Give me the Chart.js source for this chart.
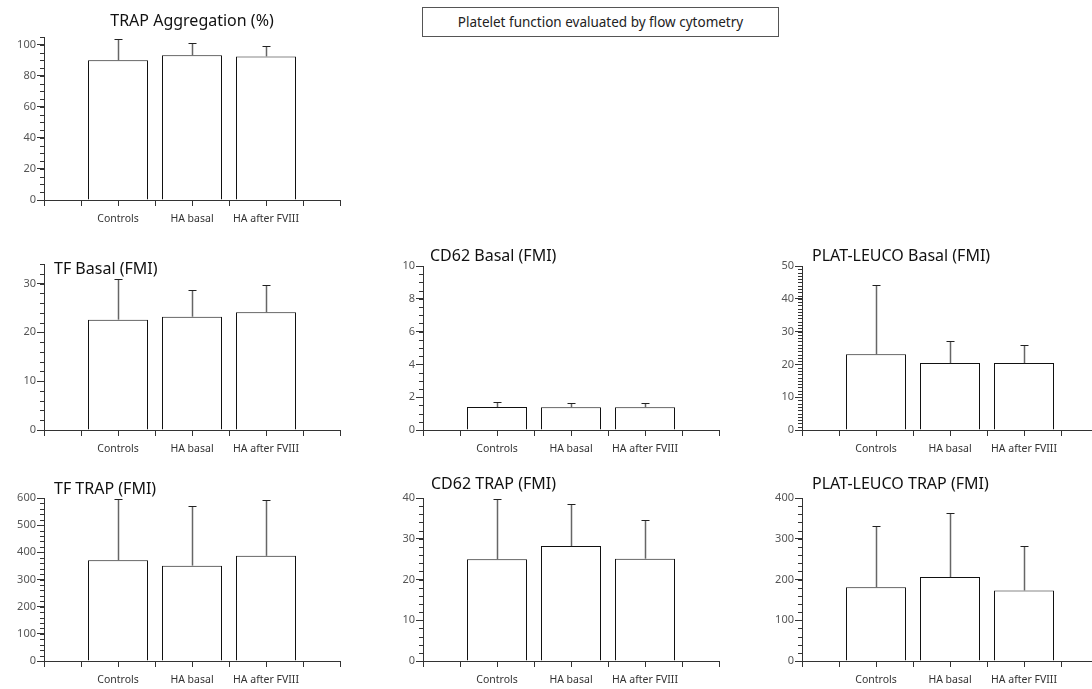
<!DOCTYPE html>
<html>
<head>
<meta charset="utf-8">
<script src="https://cdn.jsdelivr.net/npm/chart.js@4.4.0/dist/chart.umd.min.js"></script>
<style>
  body { margin: 0; background: #fff; width: 1092px; height: 689px; overflow: hidden; position: relative; font-family: "Noto Sans", sans-serif; }
  canvas { position: absolute; }
  .ttl { position: absolute; font-size: 16px; line-height: 20px; color: #111; white-space: nowrap; z-index: 2; }
  .note { position: absolute; left: 422px; top: 7px; width: 355px; height: 28px; border: 1px solid #555; font-size: 13.5px; line-height: 28px; text-align: center; color: #222; }
</style>
</head>
<body>
<div class="note">Platelet function evaluated by flow cytometry</div>
<div id="wrap"></div>
<script>
// groups
var categories = ['Controls', 'HA basal', 'HA after FVIII'];

// mean and SD per panel
var trapAggMean = [90, 93.2, 92.5];
var trapAggSd = [13.6, 7.8, 6.9];
var tfBasalMean = [22.6, 23.2, 24.1];
var tfBasalSd = [8.4, 5.5, 5.6];
var cd62BasalMean = [1.4, 1.38, 1.38];
var cd62BasalSd = [0.3, 0.25, 0.25];
var plBasalMean = [23.1, 20.4, 20.4];
var plBasalSd = [21.0, 6.7, 5.4];
var tfTrapMean = [371, 351, 387];
var tfTrapSd = [225, 218, 204];
var cd62TrapMean = [25.0, 28.2, 25.1];
var cd62TrapSd = [14.7, 10.4, 9.4];
var plTrapMean = [181, 206, 173];
var plTrapSd = [151, 158, 110];

// y axis: max, labelled step, minor step
var yMax = [105, 34, 10, 50, 600, 40, 400];
var yMajor = [20, 10, 2, 10, 100, 10, 100];
var yMinor = [5, 2, 0.5, 1, 20, 2, 20];

Chart.defaults.font.family = 'Noto Sans';

var panels = [
  { title: 'TRAP Aggregation (%)', mean: trapAggMean, sd: trapAggSd, left: 0, top: 29, h: 201, tx: 44, ty: 10, center: true },
  { title: 'TF Basal (FMI)', mean: tfBasalMean, sd: tfBasalSd, left: 0, top: 256, h: 204, tx: 54, ty: 258 },
  { title: 'CD62 Basal (FMI)', mean: cd62BasalMean, sd: cd62BasalSd, left: 379, top: 258, h: 202, tx: 430, ty: 245 },
  { title: 'PLAT-LEUCO Basal (FMI)', mean: plBasalMean, sd: plBasalSd, left: 758, top: 258, h: 202, tx: 812, ty: 245 },
  { title: 'TF TRAP (FMI)', mean: tfTrapMean, sd: tfTrapSd, left: 0, top: 490, h: 201, tx: 54, ty: 478 },
  { title: 'CD62 TRAP (FMI)', mean: cd62TrapMean, sd: cd62TrapSd, left: 379, top: 490, h: 201, tx: 431, ty: 473 },
  { title: 'PLAT-LEUCO TRAP (FMI)', mean: plTrapMean, sd: plTrapSd, left: 758, top: 490, h: 201, tx: 812, ty: 473 }
];

// minor ticks, half-step x ticks and upper error bars
var extras = {
  id: 'extras',
  afterDatasetsDraw: function(chart, args, opts) {
    var ctx = chart.ctx, xs = chart.scales.x, ys = chart.scales.y, a = chart.chartArea;
    ctx.save();
    ctx.strokeStyle = '#333';
    ctx.lineWidth = 1;
    var n = Math.round(opts.max / opts.minor);
    for (var k = 0; k <= n; k++) {
      var py = Math.round(ys.getPixelForValue(k * opts.minor)) + 0.5;
      ctx.beginPath(); ctx.moveTo(a.left - 4, py); ctx.lineTo(a.left, py); ctx.stroke();
    }
    for (var i = 0; i < xs.ticks.length - 1; i++) {
      var px = Math.round(xs.getPixelForValue(i + 0.5)) + 0.5;
      ctx.beginPath(); ctx.moveTo(px, a.bottom); ctx.lineTo(px, a.bottom + 6); ctx.stroke();
    }
    var meta = chart.getDatasetMeta(0);
    opts.sd.forEach(function(s, j) {
      var bx = Math.round(meta.data[j + 1].x) + 0.5;
      var yt = Math.round(ys.getPixelForValue(opts.mean[j] + s)) + 0.5;
      var yb = ys.getPixelForValue(opts.mean[j]);
      ctx.strokeStyle = '#666';
      ctx.lineWidth = 1.5;
      ctx.beginPath(); ctx.moveTo(bx, yb); ctx.lineTo(bx, yt); ctx.stroke();
      ctx.strokeStyle = '#222';
      ctx.lineWidth = 1;
      ctx.beginPath(); ctx.moveTo(bx - 4, yt); ctx.lineTo(bx + 4, yt); ctx.stroke();
    });
    ctx.restore();
  }
};

var wrap = document.getElementById('wrap');
var xLabels = [''].concat(categories, ['']);

panels.forEach(function(p, idx) {
  var cv = document.createElement('canvas');
  cv.width = 347; cv.height = p.h;
  cv.style.left = p.left + 'px'; cv.style.top = p.top + 'px';
  wrap.appendChild(cv);

  var t = document.createElement('div');
  t.className = 'ttl';
  t.textContent = p.title;
  t.style.left = p.tx + 'px'; t.style.top = p.ty + 'px';
  if (p.center) { t.style.width = '296px'; t.style.textAlign = 'center'; }
  wrap.appendChild(t);

  var major = yMajor[idx], max = yMax[idx];
  new Chart(cv.getContext('2d'), {
    type: 'bar',
    data: {
      labels: xLabels,
      datasets: [{
        data: [null].concat(p.mean, [null]),
        backgroundColor: '#fff',
        borderColor: '#111',
        borderWidth: 1,
        barPercentage: 1,
        categoryPercentage: 0.811
      }]
    },
    options: {
      responsive: false,
      animation: false,
      devicePixelRatio: 1,
      layout: { padding: { top: 8, right: 7, left: 0, bottom: 0 } },
      plugins: {
        legend: { display: false },
        tooltip: { enabled: false },
        extras: { max: max, minor: yMinor[idx], mean: p.mean, sd: p.sd }
      },
      scales: {
        x: {
          offset: false,
          afterFit: function(s) { s.height = 30; },
          ticks: { autoSkip: false, maxRotation: 0, padding: 7, color: '#333', font: { size: 10.5 } },
          grid: { drawOnChartArea: false, offset: false, tickLength: 6, color: '#333' },
          border: { color: '#333' }
        },
        y: {
          min: 0,
          max: max,
          afterFit: function(s) { s.width = 44; },
          afterBuildTicks: function(s) {
            var tk = [];
            for (var k = 0; k * major <= max + 1e-9; k++) tk.push({ value: k * major });
            s.ticks = tk;
          },
          ticks: { stepSize: major, padding: 1, color: '#555', font: { size: 11 } },
          grid: { drawOnChartArea: false, tickLength: 7, color: '#333' },
          border: { color: '#333' }
        }
      }
    },
    plugins: [extras]
  });
});
</script>
</body>
</html>
